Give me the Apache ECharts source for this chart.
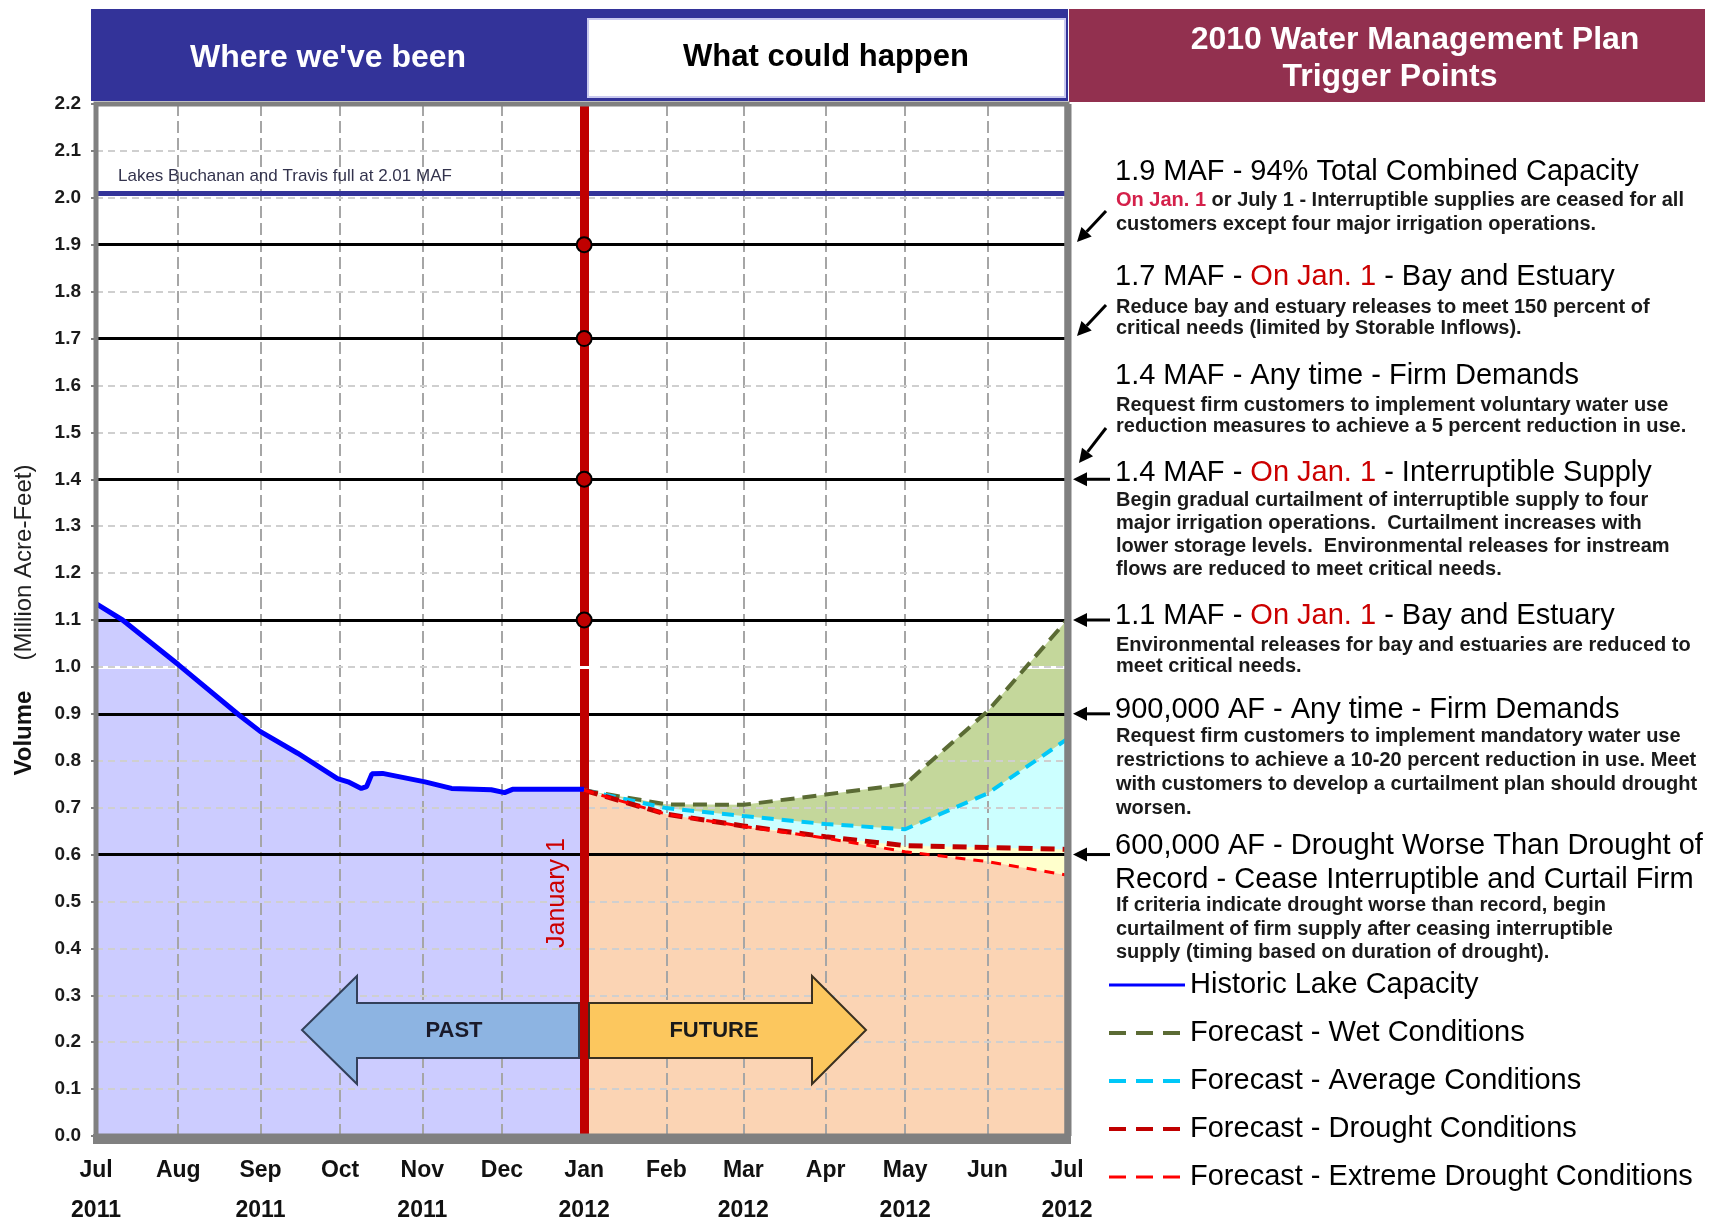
<!DOCTYPE html>
<html>
<head>
<meta charset="utf-8">
<title>2010 Water Management Plan - Trigger Points</title>
<script src="https://cdn.jsdelivr.net/npm/echarts@6/dist/echarts.min.js"></script>
<style>
  html, body { margin: 0; padding: 0; background: #fff; }
  #chart { width: 1716px; height: 1220px; }
</style>
</head>
<body>
<div id="chart"></div>
<script>
// volumes in million acre-feet
const monthNames = ['Jan', 'Feb', 'Mar', 'Apr', 'May', 'Jun', 'Jul', 'Aug', 'Sep', 'Oct', 'Nov', 'Dec'];
const axisStart = '2011-07-01';
const axisEnd = '2012-07-01';
const janFirst = '2012-01-01';

const historic = [
  ['2011-07-01', 1.135], ['2011-07-11', 1.1], ['2011-08-01', 1.005], ['2011-08-24', 0.897],
  ['2011-09-01', 0.862], ['2011-09-15', 0.816], ['2011-09-30', 0.762], ['2011-10-04', 0.755],
  ['2011-10-09', 0.741], ['2011-10-11', 0.745], ['2011-10-13', 0.772], ['2011-10-17', 0.773],
  ['2011-11-02', 0.755], ['2011-11-12', 0.741], ['2011-11-27', 0.738], ['2011-12-02', 0.732],
  ['2011-12-05', 0.739], ['2012-01-01', 0.739]
];
const forecastWet = [['2012-01-01', 0.737], ['2012-02-01', 0.707], ['2012-03-01', 0.706], ['2012-04-01', 0.728], ['2012-05-01', 0.75], ['2012-06-01', 0.905], ['2012-07-01', 1.1]];
const forecastAvg = [['2012-01-01', 0.737], ['2012-02-01', 0.699], ['2012-03-01', 0.682], ['2012-04-01', 0.665], ['2012-05-01', 0.654], ['2012-06-01', 0.73], ['2012-07-01', 0.846]];
const forecastDrought = [['2012-01-01', 0.737], ['2012-02-01', 0.686], ['2012-03-01', 0.661], ['2012-04-01', 0.638], ['2012-05-01', 0.619], ['2012-06-01', 0.615], ['2012-07-01', 0.611]];
const forecastExtreme = [['2012-01-01', 0.737], ['2012-02-01', 0.686], ['2012-03-01', 0.66], ['2012-04-01', 0.635], ['2012-05-01', 0.606], ['2012-06-01', 0.585], ['2012-07-01', 0.556]];

const triggerLevels = [1.9, 1.7, 1.4, 1.1, 0.9, 0.6];
const janTriggers = [1.9, 1.7, 1.4, 1.1];
const fullLevel = 2.01;
const yMax = 2.2;

const FONT = '"Liberation Sans", Arial, sans-serif';

// plot box (px)
const G = { left: 96, top: 104, right: 1067, bottom: 1136 };
const yPix = v => G.bottom - v * (G.bottom - G.top) / yMax;
const DAY = 86400000;

const titleRows = [
  '{k|1.9 MAF - 94% Total Combined Capacity}',
  '{k|1.7 MAF - }{r|On Jan. 1}{k| - Bay and Estuary}',
  '{k|1.4 MAF - Any time - Firm Demands}',
  '{k|1.4 MAF - }{r|On Jan. 1}{k| - Interruptible Supply}',
  '{k|1.1 MAF - }{r|On Jan. 1}{k| - Bay and Estuary}',
  '{k|900,000 AF - Any time - Firm Demands}',
  '{k|600,000 AF - Drought Worse Than Drought of}',
  '{k|Record - Cease Interruptible and Curtail Firm}'
];
const titleY = [172, 277, 376, 473, 616, 710, 846, 880];

const noteRows = [
  '{sr|On Jan. 1}{s| or July 1 - Interruptible supplies are ceased for all}',
  '{s|customers except four major irrigation operations.}',
  '{s|Reduce bay and estuary releases to meet 150 percent of}',
  '{s|critical needs (limited by Storable Inflows).}',
  '{s|Request firm customers to implement voluntary water use}',
  '{s|reduction measures to achieve a 5 percent reduction in use.}',
  '{s|Begin gradual curtailment of interruptible supply to four}',
  '{s|major irrigation operations.  Curtailment increases with}',
  '{s|lower storage levels.  Environmental releases for instream}',
  '{s|flows are reduced to meet critical needs.}',
  '{s|Environmental releases for bay and estuaries are reduced to}',
  '{s|meet critical needs.}',
  '{s|Request firm customers to implement mandatory water use}',
  '{s|restrictions to achieve a 10-20 percent reduction in use. Meet}',
  '{s|with customers to develop a curtailment plan should drought}',
  '{s|worsen.}',
  '{s|If criteria indicate drought worse than record, begin}',
  '{s|curtailment of firm supply after ceasing interruptible}',
  '{s|supply (timing based on duration of drought).}'
];
const noteY = [200, 224, 307, 328, 405, 426, 500, 523, 546, 569, 645, 666, 736, 760, 784, 808, 905, 929, 952];

const richText = {
  k: { fill: '#000', fontSize: 29, fontFamily: FONT },
  r: { fill: '#cc0000', fontSize: 29, fontFamily: FONT },
  s: { fill: '#1a1a1a', fontSize: 20, fontWeight: 'bold', fontFamily: FONT },
  sr: { fill: '#d4204a', fontSize: 20, fontWeight: 'bold', fontFamily: FONT }
};

function arrow(x1, y1, x2, y2) {
  const ang = Math.atan2(y2 - y1, x2 - x1);
  const len = 14, half = 7;
  const bx = x2 - Math.cos(ang) * len, by = y2 - Math.sin(ang) * len;
  const px = -Math.sin(ang) * half, py = Math.cos(ang) * half;
  return [
    { type: 'line', z: 100, shape: { x1: x1, y1: y1, x2: bx, y2: by }, style: { stroke: '#000', lineWidth: 3 } },
    { type: 'polygon', z: 100, shape: { points: [[x2, y2], [bx + px, by + py], [bx - px, by - py]] }, style: { fill: '#000' } }
  ];
}

const graphics = [];
// header bands
graphics.push({ type: 'rect', z: 100, shape: { x: 91, y: 9, width: 977, height: 92 }, style: { fill: '#333399' } });
graphics.push({ type: 'rect', z: 101, shape: { x: 588, y: 19, width: 477, height: 78 }, style: { fill: '#fff', stroke: '#c9c9ef', lineWidth: 2 } });
graphics.push({ type: 'rect', z: 100, shape: { x: 1069, y: 9, width: 636, height: 93 }, style: { fill: '#92304f' } });
graphics.push({ type: 'text', z: 102, x: 328, y: 58, style: { text: "Where we've been", fill: '#fff', font: 'bold 32px ' + FONT, align: 'center', verticalAlign: 'middle' } });
graphics.push({ type: 'text', z: 102, x: 826, y: 57, style: { text: 'What could happen', fill: '#000', font: 'bold 31px ' + FONT, align: 'center', verticalAlign: 'middle' } });
graphics.push({ type: 'text', z: 102, x: 1415, y: 40, style: { text: '2010 Water Management Plan', fill: '#fff', font: 'bold 32px ' + FONT, align: 'center', verticalAlign: 'middle' } });
graphics.push({ type: 'text', z: 102, x: 1390, y: 77, style: { text: 'Trigger Points', fill: '#fff', font: 'bold 32px ' + FONT, align: 'center', verticalAlign: 'middle' } });

// plot frame
graphics.push({ type: 'rect', z: 100, shape: { x: G.left, y: G.top, width: G.right - G.left, height: G.bottom - G.top }, style: { fill: null, stroke: '#808080', lineWidth: 5 } });
graphics.push({ type: 'line', z: 100, shape: { x1: G.left - 3, y1: G.bottom + 3, x2: G.right + 4, y2: G.bottom + 3 }, style: { stroke: '#808080', lineWidth: 10 } });
graphics.push({ type: 'line', z: 100, shape: { x1: G.right + 1, y1: G.top, x2: G.right + 1, y2: G.bottom }, style: { stroke: '#808080', lineWidth: 7 } });

// in-plot labels
graphics.push({ type: 'text', z: 100, x: 118, y: 176, style: { text: 'Lakes Buchanan and Travis full at 2.01 MAF', fill: '#33334d', font: '17px ' + FONT, align: 'left', verticalAlign: 'middle' } });
graphics.push({ type: 'text', z: 100, x: 557, y: 893, rotation: Math.PI / 2, style: { text: 'January 1', fill: '#cc0000', font: '25px ' + FONT, align: 'center', verticalAlign: 'middle' } });

// PAST / FUTURE arrows
graphics.push({ type: 'polygon', z: 100, shape: { points: [[302, 1030], [357, 976], [357, 1003], [579, 1003], [579, 1058], [357, 1058], [357, 1084]] }, style: { fill: '#8db4e2', stroke: '#33405a', lineWidth: 2 } });
graphics.push({ type: 'polygon', z: 100, shape: { points: [[589, 1003], [812, 1003], [812, 976], [866, 1030], [812, 1084], [812, 1058], [589, 1058]] }, style: { fill: '#fcc75e', stroke: '#3a3020', lineWidth: 2 } });
graphics.push({ type: 'text', z: 101, x: 454, y: 1031, style: { text: 'PAST', fill: '#1a1a2a', font: 'bold 22px ' + FONT, align: 'center', verticalAlign: 'middle' } });
graphics.push({ type: 'text', z: 101, x: 714, y: 1031, style: { text: 'FUTURE', fill: '#1a1a1a', font: 'bold 22px ' + FONT, align: 'center', verticalAlign: 'middle' } });

// right-hand notes
titleRows.forEach((t, i) => {
  graphics.push({ type: 'text', z: 100, x: 1115, y: titleY[i], style: { text: t, rich: richText, align: 'left', verticalAlign: 'middle' } });
});
noteRows.forEach((t, i) => {
  graphics.push({ type: 'text', z: 100, x: 1116, y: noteY[i], style: { text: t, rich: richText, align: 'left', verticalAlign: 'middle' } });
});

// pointer arrows toward the trigger lines
graphics.push(...arrow(1106, 211, 1077, 242));
graphics.push(...arrow(1106, 305, 1077, 336));
graphics.push(...arrow(1106, 428, 1079, 463));
[1.4, 1.1, 0.9, 0.6].forEach(v => graphics.push(...arrow(1110, yPix(v), 1073, yPix(v))));

// helper data for reference lines
const t0 = +new Date(2011, 6, 1), t1 = +new Date(2012, 6, 1), tJan = +new Date(2012, 0, 1);
const monthTicks = [];
for (let m = 1; m < 12; m++) {
  const t = +new Date(2011, 6 + m, 1);
  monthTicks.push({ coords: [[t, 0], [t, yMax]] });
}
const gridLevels = [];
for (let i = 1; i <= 21; i++) gridLevels.push({ coords: [[t0, i / 10], [t1, i / 10]] });

function fillSeries(name, data, color) {
  return {
    name: name, type: 'line', data: data, symbol: 'none', silent: true, z: 1,
    lineStyle: { width: 0 }, areaStyle: { color: color, opacity: 1, origin: 'start' }
  };
}
function refLines(data, style, z) {
  return { type: 'lines', coordinateSystem: 'cartesian2d', silent: true, z: z, data: data, lineStyle: Object.assign({ opacity: 1 }, style) };
}
function curve(name, data, style) {
  return { name: name, type: 'line', data: data, symbol: 'none', showSymbol: false, silent: true, z: 7, lineStyle: style, itemStyle: { color: style.color } };
}

const chart = echarts.init(document.getElementById('chart'));

chart.setOption({
  backgroundColor: '#fff',
  animation: false,
  grid: { left: G.left, top: G.top, right: 1716 - G.right, bottom: 1220 - G.bottom, outerBoundsMode: 'none' },
  xAxis: {
    type: 'time', min: axisStart, max: axisEnd,
    splitNumber: 12, minInterval: 28 * DAY, maxInterval: 31 * DAY,
    axisLine: { show: false }, axisTick: { show: false }, splitLine: { show: false },
    axisLabel: {
      margin: 15, showMinLabel: true, showMaxLabel: true, hideOverlap: false,
      formatter: function (v) {
        const d = new Date(v);
        const yr = d.getMonth() % 2 === 0 ? String(d.getFullYear()) : ' ';
        return '{m|' + monthNames[d.getMonth()] + '}\n{y|' + yr + '}';
      },
      rich: {
        m: { fontSize: 23, fontWeight: 'bold', fontFamily: FONT, color: '#111', lineHeight: 40 },
        y: { fontSize: 23, fontWeight: 'bold', fontFamily: FONT, color: '#111', lineHeight: 40 }
      }
    }
  },
  yAxis: {
    type: 'value', min: 0, max: yMax, interval: 0.1,
    axisLine: { show: false }, splitLine: { show: false },
    axisTick: { show: true, length: 5, lineStyle: { color: '#808080', width: 2 } },
    axisLabel: { margin: 15, fontSize: 19, fontWeight: 'bold', fontFamily: FONT, color: '#1a1a1a', formatter: v => v.toFixed(1) },
    name: '{b|Volume}{g|}{r|(Million Acre-Feet)}',
    nameLocation: 'middle', nameGap: 60,
    nameTextStyle: {
      rich: {
        b: { fontSize: 24, fontWeight: 'bold', fontFamily: FONT, color: '#111' },
        g: { width: 30 },
        r: { fontSize: 24, fontFamily: FONT, color: '#222' }
      }
    }
  },
  legend: {
    orient: 'vertical', left: 1102, top: 964, itemWidth: 76, itemHeight: 14, itemGap: 16,
    selectedMode: false,
    itemStyle: { opacity: 0 },
    textStyle: { fontSize: 29, lineHeight: 32, fontFamily: FONT, color: '#000' },
    data: [
      { name: 'Historic Lake Capacity', lineStyle: { width: 3, type: 'solid' } },
      { name: 'Forecast - Wet Conditions', lineStyle: { width: 4, type: [17, 10] } },
      { name: 'Forecast - Average Conditions', lineStyle: { width: 4, type: [17, 10] } },
      { name: 'Forecast - Drought Conditions', lineStyle: { width: 4, type: [17, 10] } },
      { name: 'Forecast - Extreme Drought Conditions', lineStyle: { width: 3, type: [17, 10] } }
    ]
  },
  graphic: { elements: graphics },
  series: [
    fillSeries('fill-historic', historic, '#ccccff'),
    fillSeries('fill-wet', forecastWet, '#c4d79b'),
    fillSeries('fill-avg', forecastAvg, '#ccffff'),
    fillSeries('fill-drought', forecastDrought, '#ffffcc'),
    fillSeries('fill-extreme', forecastExtreme, '#fbd4b4'),
    refLines([{ coords: [[t0, 1.0], [t1, 1.0]] }], { color: '#fff', width: 3 }, 2),
    refLines(monthTicks, { color: '#a6a6a6', width: 2, type: [12, 5] }, 3),
    refLines(gridLevels, { color: '#cfcfcf', width: 2, type: [7, 5] }, 3),
    refLines(triggerLevels.map(v => ({ coords: [[t0, v], [t1, v]] })), { color: '#000', width: 3 }, 4),
    refLines([{ coords: [[t0, fullLevel], [t1, fullLevel]] }], { color: '#333399', width: 5 }, 4),
    refLines([{ coords: [[tJan, 0], [tJan, yMax]] }], { color: '#c00000', width: 9 }, 5),
    refLines([{ coords: [[tJan - 5 * DAY, 1.0], [tJan + 5 * DAY, 1.0]] }], { color: '#fff', width: 3 }, 6),
    curve('Historic Lake Capacity', historic, { color: '#0000ff', width: 5 }),
    curve('Forecast - Wet Conditions', forecastWet, { color: '#5b6b34', width: 4, type: [14, 8] }),
    curve('Forecast - Average Conditions', forecastAvg, { color: '#00c8f8', width: 4, type: [12, 8] }),
    curve('Forecast - Drought Conditions', forecastDrought, { color: '#c00000', width: 5, type: [14, 8] }),
    curve('Forecast - Extreme Drought Conditions', forecastExtreme, { color: '#ff0000', width: 3, type: [10, 8] }),
    {
      type: 'scatter', z: 8, silent: true, symbol: 'circle', symbolSize: 15,
      data: janTriggers.map(v => [janFirst, v]),
      itemStyle: { color: '#c00000', borderColor: '#000', borderWidth: 2, opacity: 1 }
    }
  ]
});
</script>
</body>
</html>
